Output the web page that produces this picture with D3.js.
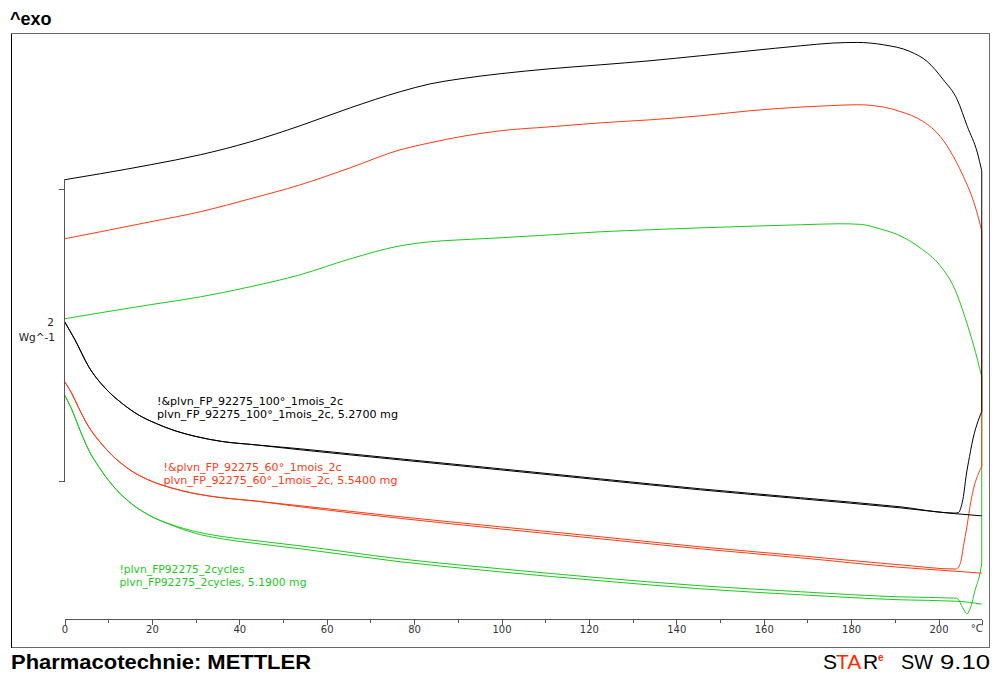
<!DOCTYPE html>
<html><head><meta charset="utf-8">
<script src="https://cdn.jsdelivr.net/npm/d3@7"></script>
<style>body{margin:0;background:#fff;} svg{display:block;}</style>
</head><body><svg id="c" width="992" height="675"></svg>
<script>
// ---------- DATA (temperature °C, heat flow W/g, relative) ----------
const majorTicks = [0, 20, 40, 60, 80, 100, 120, 140, 160, 180, 200];
const minorTicks = [10, 30, 50, 70, 90, 110, 130, 150, 170, 190];
const axisEndT = 209.9;
const yScaleBar = [0, 2];
const yLabel = ["2", "Wg^-1"];
const xUnit = "°C";

// black sample: 100° 1 mois
const blackCoolT = [0, 8.2, 19.6, 31.1, 42.5, 53.9, 65.4, 76.8, 83.7, 90.5, 99.7, 111.1, 122.6, 134.0, 145.5, 156.9, 168.4, 175.9, 181.4, 187.4, 193.5, 197.4, 201.1, 204.3, 206.6, 208.9, 209.9];
const blackCoolV = [2.064, 2.105, 2.166, 2.235, 2.323, 2.433, 2.556, 2.666, 2.720, 2.754, 2.789, 2.823, 2.850, 2.878, 2.912, 2.946, 2.980, 2.999, 3.003, 2.987, 2.941, 2.873, 2.748, 2.611, 2.428, 2.248, 2.125];
const blackHeat1T = [0, 2.4, 5.5, 9.3, 13.1, 16.9, 20.8, 25.3, 29.9, 36.0, 43.6, 53.9, 65.4, 76.8, 99.7, 122.6, 145.5, 168.4, 191.2, 203.8, 204.6, 205.2, 205.7, 206.3, 207.1, 207.6, 209.9];
const blackHeat1V = [1.094, 0.969, 0.787, 0.639, 0.536, 0.456, 0.399, 0.347, 0.309, 0.274, 0.251, 0.224, 0.189, 0.155, 0.087, 0.018, -0.050, -0.111, -0.173, -0.216, -0.212, -0.171, -0.103, 0.034, 0.171, 0.251, 0.479];
const blackHeat2T = [0, 2.4, 5.5, 9.3, 13.1, 16.9, 20.8, 25.3, 29.9, 36.0, 43.6, 53.9, 65.4, 76.8, 99.7, 122.6, 145.5, 168.4, 191.2, 203.8, 209.9];
const blackHeat2V = [1.094, 0.969, 0.787, 0.639, 0.536, 0.456, 0.399, 0.347, 0.309, 0.274, 0.251, 0.217, 0.182, 0.148, 0.080, 0.011, -0.057, -0.118, -0.180, -0.220, -0.235];

// red sample: 60° 1 mois
const redCoolT = [0, 8.2, 19.6, 31.1, 42.5, 53.9, 65.4, 76.8, 83.7, 90.5, 99.7, 111.1, 122.6, 134.0, 145.5, 156.9, 168.4, 174.5, 181.4, 187.4, 191.2, 196.5, 200.4, 203.4, 205.7, 208.4, 209.9];
const redCoolV = [1.660, 1.708, 1.776, 1.845, 1.934, 2.029, 2.146, 2.269, 2.317, 2.358, 2.399, 2.426, 2.453, 2.474, 2.501, 2.536, 2.561, 2.570, 2.577, 2.561, 2.531, 2.462, 2.360, 2.223, 2.086, 1.881, 1.715];
const redHeat1T = [0, 1.7, 3.2, 5.5, 7.8, 10.9, 14.7, 19.2, 24.6, 29.9, 36.0, 43.6, 53.9, 76.8, 99.7, 122.6, 145.5, 168.4, 191.2, 204.0, 204.6, 205.2, 205.7, 206.5, 207.4, 209.9];
const redHeat1V = [0.684, 0.600, 0.506, 0.376, 0.282, 0.179, 0.085, 0.011, -0.045, -0.083, -0.111, -0.133, -0.166, -0.241, -0.310, -0.378, -0.447, -0.508, -0.570, -0.599, -0.585, -0.536, -0.445, -0.308, -0.137, 0.103];
const redHeat2T = [0, 1.7, 3.2, 5.5, 7.8, 10.9, 14.7, 19.2, 24.6, 29.9, 36.0, 43.6, 53.9, 76.8, 99.7, 122.6, 145.5, 168.4, 191.2, 204.0, 209.9];
const redHeat2V = [0.684, 0.600, 0.506, 0.376, 0.282, 0.179, 0.085, 0.011, -0.045, -0.083, -0.111, -0.133, -0.173, -0.252, -0.324, -0.392, -0.460, -0.522, -0.587, -0.614, -0.627];

// green sample: 2 cycles
const greenCoolT = [0, 8.2, 19.6, 31.1, 42.5, 53.9, 65.4, 76.8, 83.7, 90.5, 99.7, 111.1, 122.6, 134.0, 145.5, 156.9, 168.4, 177.5, 182.1, 186.6, 191.2, 195.8, 200.4, 203.8, 206.1, 208.0, 209.9];
const greenCoolV = [1.113, 1.154, 1.209, 1.263, 1.332, 1.414, 1.523, 1.612, 1.640, 1.653, 1.667, 1.687, 1.708, 1.722, 1.735, 1.746, 1.756, 1.763, 1.759, 1.728, 1.681, 1.598, 1.475, 1.311, 1.120, 0.935, 0.716];
const greenHeat1T = [0, 1.7, 3.2, 5.5, 7.8, 10.9, 14.7, 19.2, 24.6, 29.9, 36.0, 43.6, 53.9, 76.8, 99.7, 122.6, 145.5, 168.4, 191.2, 204.2, 205.4, 206.5, 207.3, 208.4, 209.5, 209.9];
const greenHeat1V = [0.593, 0.490, 0.376, 0.217, 0.103, -0.023, -0.137, -0.228, -0.296, -0.342, -0.376, -0.404, -0.440, -0.529, -0.597, -0.659, -0.713, -0.754, -0.789, -0.798, -0.855, -0.905, -0.866, -0.741, -0.627, -0.558];
const greenHeat2T = [0, 1.7, 3.2, 5.5, 7.8, 10.9, 14.7, 19.2, 24.6, 29.9, 36.0, 43.6, 53.9, 76.8, 99.7, 122.6, 145.5, 168.4, 191.2, 204.2, 209.9];
const greenHeat2V = [0.593, 0.490, 0.376, 0.217, 0.103, -0.023, -0.137, -0.228, -0.300, -0.354, -0.392, -0.423, -0.460, -0.549, -0.618, -0.679, -0.734, -0.775, -0.809, -0.819, -0.839];

const legendBlack = ["!&plvn_FP_92275_100°_1mois_2c", "plvn_FP_92275_100°_1mois_2c, 5.2700 mg"];
const legendRed = ["!&plvn_FP_92275_60°_1mois_2c", "plvn_FP_92275_60°_1mois_2c, 5.5400 mg"];
const legendGreen = ["!plvn_FP92275_2cycles", "plvn_FP92275_2cycles, 5.1900 mg"];

// ---------- DRAW ----------
const svg = d3.select("#c");
svg.append("rect").attr("width", 992).attr("height", 675).attr("fill", "#fff");

const x = d3.scaleLinear().domain([0, 200]).range([64.5, 938.5]);
const y = d3.scaleLinear().domain([0, 2]).range([481.5, 189.1]);

const SANS = "'Liberation Sans', Arial, sans-serif";
const SMALL = "'DejaVu Sans', Verdana, sans-serif";

// frame
svg.append("rect").attr("x", 11.5).attr("y", 33.5).attr("width", 978).attr("height", 614)
  .attr("fill", "none").attr("stroke", "#6a6a6a").attr("shape-rendering", "crispEdges");
svg.append("line").attr("x1", 11.5).attr("x2", 11.5).attr("y1", 33.5).attr("y2", 647.5)
  .attr("stroke", "#000").attr("shape-rendering", "crispEdges");

// title
svg.append("text").attr("x", 10).attr("y", 25).attr("font-family", SANS).attr("font-weight", "bold")
  .attr("font-size", 18).attr("fill", "#000").text("^exo");

// footer
svg.append("text").attr("x", 11).attr("y", 669).attr("font-family", SANS).attr("font-weight", "bold")
  .attr("font-size", 19.5).attr("textLength", 300).attr("lengthAdjust", "spacingAndGlyphs")
  .attr("fill", "#000").text("Pharmacotechnie: METTLER");
const star = svg.append("g").attr("font-family", SANS).attr("font-size", 21);
star.append("text").attr("x", 823).attr("y", 669).attr("fill", "#000").text("S");
star.append("text").attr("x", 836).attr("y", 669).attr("fill", "#ff2a00").text("TA");
star.append("text").attr("x", 863).attr("y", 669).attr("fill", "#000").text("R");
star.append("text").attr("x", 878).attr("y", 661).attr("font-size", 10).attr("font-weight", "bold").attr("fill", "#ff2a00").text("e");
star.append("text").attr("x", 901).attr("y", 669).attr("fill", "#000").attr("textLength", 32).attr("lengthAdjust", "spacingAndGlyphs").text("SW");
star.append("text").attr("x", 940).attr("y", 669).attr("textLength", 50).attr("lengthAdjust", "spacingAndGlyphs").attr("fill", "#000").text("9.10");

// curves
function pts(T, V) { return T.map((t, i) => [t, V[i]]); }
const samples = [
  { color: "#1ec81e", heat1: pts(greenHeat1T, greenHeat1V), cool: pts(greenCoolT, greenCoolV), heat2: pts(greenHeat2T, greenHeat2V) },
  { color: "#ff3a14", heat1: pts(redHeat1T, redHeat1V), cool: pts(redCoolT, redCoolV), heat2: pts(redHeat2T, redHeat2V) },
  { color: "#000000", heat1: pts(blackHeat1T, blackHeat1V), cool: pts(blackCoolT, blackCoolV), heat2: pts(blackHeat2T, blackHeat2V) }
];
const smooth = d3.line().x(d => x(d[0])).y(d => y(d[1])).curve(d3.curveMonotoneX);
const straight = d3.line().x(d => x(d[0])).y(d => y(d[1]));
samples.forEach(s => {
  const g = svg.append("g").attr("fill", "none").attr("stroke", s.color).attr("stroke-width", 1);
  [s.heat1, s.cool, s.heat2].forEach(seg => g.append("path").attr("d", smooth(seg)));
  g.append("path").attr("d", straight([s.heat1[s.heat1.length - 1], s.cool[s.cool.length - 1]]));
  g.append("path").attr("d", straight([s.cool[0], s.heat2[0]]));
});

// y scale bar
const yg = svg.append("g").attr("stroke", "#555").attr("shape-rendering", "crispEdges");
yg.append("line").attr("x1", x(0)).attr("x2", x(0)).attr("y1", y(yScaleBar[0])).attr("y2", y(yScaleBar[1]) - 9);
yScaleBar.forEach(v => yg.append("line").attr("x1", x(0) - 6).attr("x2", x(0)).attr("y1", y(v)).attr("y2", y(v)));
const ymid = y((yScaleBar[0] + yScaleBar[1]) / 2);
svg.append("text").attr("x", 54).attr("y", ymid - 9).attr("text-anchor", "end")
  .attr("font-family", SMALL).attr("font-size", 10.5).attr("fill", "#222").text(yLabel[0]);
svg.append("text").attr("x", 55).attr("y", ymid + 6).attr("text-anchor", "end")
  .attr("font-family", SMALL).attr("font-size", 10.5).attr("fill", "#222").text(yLabel[1]);

// x axis
const xg = svg.append("g").attr("transform", "translate(0,619.5)");
xg.append("line").attr("x1", x(0)).attr("x2", x(axisEndT)).attr("y1", 0).attr("y2", 0)
  .attr("stroke", "#555").attr("shape-rendering", "crispEdges");
const major = xg.append("g").call(d3.axisBottom(x).tickValues(majorTicks).tickSize(5).tickSizeOuter(0).tickPadding(1).tickFormat(d3.format("d")));
const minor = xg.append("g").call(d3.axisBottom(x).tickValues(minorTicks).tickSize(3).tickSizeOuter(0).tickFormat(""));
const endT = xg.append("g").call(d3.axisBottom(x).tickValues([axisEndT]).tickSize(5).tickSizeOuter(0).tickFormat(""));
[major, minor, endT].forEach(g => {
  g.select(".domain").remove();
  g.selectAll("line").attr("stroke", "#555").attr("shape-rendering", "crispEdges");
  g.selectAll("text").attr("font-family", SMALL).attr("font-size", 10).attr("fill", "#333");
});
xg.append("text").attr("x", x(axisEndT) + 1).attr("y", 12.5).attr("text-anchor", "end")
  .attr("font-family", SMALL).attr("font-size", 10).attr("fill", "#333").text(xUnit);

// curve labels
function label(lines, color, x0, y0, widths) {
  lines.forEach((t, i) => {
    svg.append("text").attr("x", x0).attr("y", y0 + i * 12.7).attr("font-family", SMALL)
      .attr("font-size", 10.5).attr("fill", color)
      .attr("textLength", widths[i]).attr("lengthAdjust", "spacingAndGlyphs").text(t);
  });
}
label(legendBlack, "#000", 157, 405, [186, 241]);
label(legendRed, "#ff3a14", 163.5, 471, [178, 234]);
label(legendGreen, "#1ec81e", 119.5, 573, [125, 187]);
</script></body></html>
